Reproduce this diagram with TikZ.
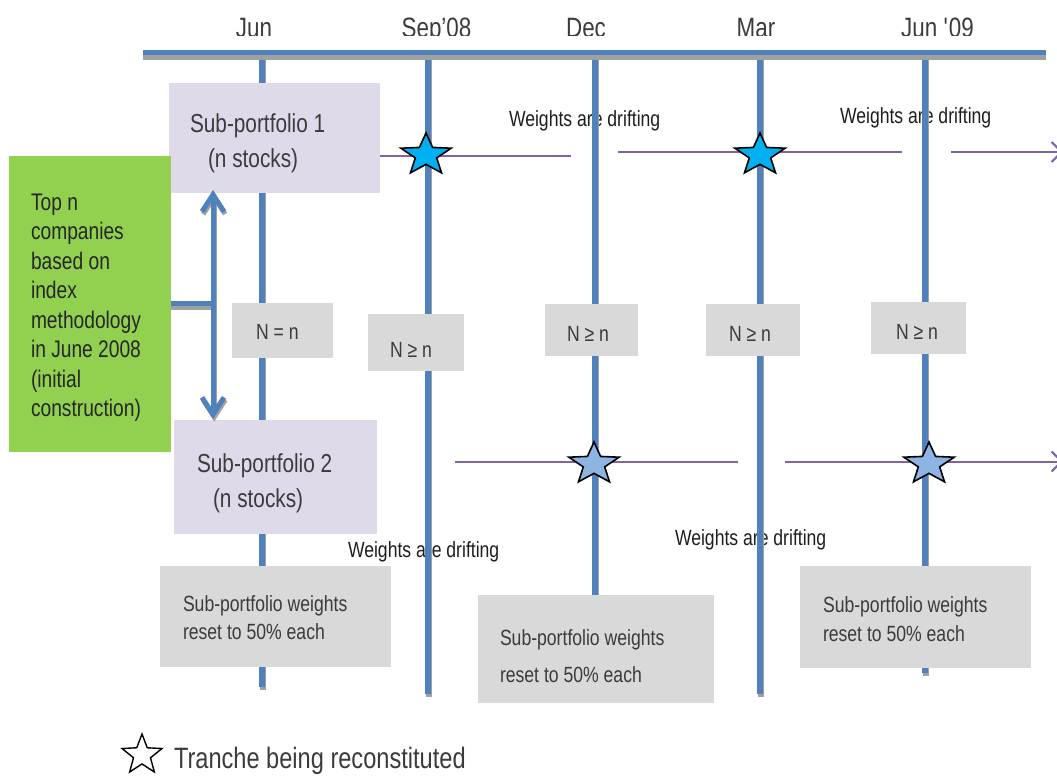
\documentclass[tikz,border=0pt]{standalone}
\usepackage{fontspec}
\setmainfont{Liberation Sans}[FakeStretch=0.8]
\usetikzlibrary{shapes.geometric,arrows.meta}
\definecolor{tlblue}{HTML}{4F81BD}
\definecolor{shgray}{HTML}{A0A0A0}
\definecolor{lav}{HTML}{DFDAE9}
\definecolor{boxgray}{HTML}{D9D9D9}
\definecolor{grn}{HTML}{92D050}
\definecolor{purp}{HTML}{8064A2}
\definecolor{cyanstar}{HTML}{00B0F0}
\definecolor{lbstar}{HTML}{8DB4E2}
\definecolor{txt}{HTML}{3B3B3B}
\definecolor{txtd}{HTML}{1E1E1E}
\newcommand{\fsz}[1]{\fontsize{#1}{#1}\selectfont}
\begin{document}
\begin{tikzpicture}[x=1pt,y=-1pt,
  rbox/.style={inner sep=0pt, outer sep=0pt, anchor=north west, draw=none},
  lbl/.style={inner sep=0pt, outer sep=0pt, anchor=base west, text=txt},
  drift/.style={inner sep=0pt, outer sep=0pt, anchor=base west, text=txtd, font=\fsz{22}},
  vline/.style={draw=tlblue, line width=5.5pt},
  vshadow/.style={draw=shgray, line width=5.5pt},
  pline/.style={draw=purp, line width=2pt},
  parrow/.style={pline, -{Straight Barb[length=10pt,width=20pt]}},
  tstar/.style={star, star points=5, star point ratio=2.35, minimum size=44pt, inner sep=0pt, outer sep=0pt, draw=black, line width=1.6pt, transform shape},
  chev/.style={{Straight Barb[length=17pt,width=22pt]}-{Straight Barb[length=17pt,width=22pt]}},
]
\useasboundingbox (0,0) rectangle (1057,776);

% month labels (clipped at the bottom like the original)
\begin{scope}
\clip (100,0) rectangle (1057,35.5);
\node[lbl, anchor=base, font=\fsz{28}] (mjun) at (254,37.5) {Jun};
\node[lbl, anchor=base, font=\fsz{28}] (msep) at (436.5,37.5) {Sep’08};
\node[lbl, anchor=base, font=\fsz{28}] (mdec) at (586,37.5) {Dec};
\node[lbl, anchor=base, font=\fsz{28}] (mmar) at (756,37.5) {Mar};
\node[lbl, anchor=base, font=\fsz{28}] (mjunb) at (937.5,37.5) {Jun \textquotesingle 09};
\end{scope}

% drifting labels (under the lines)
\node[drift] (dr1) at (509,126) {Weights are drifting};
\node[drift] (dr2) at (840,123) {Weights are drifting};
\node[drift] (dr3) at (348,557) {Weights are drifting};
\node[drift] (dr4) at (675,545) {Weights are drifting};

% vertical time lines
\foreach \n/\x/\yb in {vjun/262/690, vsep/428/697, vdec/595/600, vmar/760/697, vjunb/925/676} {
  \coordinate (\n T) at (\x,52);
  \coordinate (\n B) at (\x,\yb);
  \draw[vshadow] ([xshift=0.8pt]\n T) -- ([xshift=0.8pt]\n B);
  \draw[vline] (\n T) -- ([yshift=3pt]\n B);
}

% timeline
\coordinate (tlL) at (143,52.5);
\coordinate (tlR) at (1046,52.5);
\draw[shgray, line width=5pt] ([yshift=-5pt]tlL) -- ([yshift=-5pt]tlR);
\draw[tlblue, line width=5pt] (tlL) -- (tlR);

% purple drift lines
\coordinate (p1a) at (380,156); \coordinate (p1b) at (571,156);
\coordinate (p1c) at (618,152); \coordinate (p1d) at (902,152);
\coordinate (p1e) at (951,152); \coordinate (p1f) at (1063,152);
\draw[pline] (p1a) -- (p1b);
\draw[pline] (p1c) -- (p1d);
\draw[parrow] (p1e) -- (p1f);
\coordinate (p2a) at (455,461.5); \coordinate (p2b) at (738,461.5);
\coordinate (p2c) at (785,461.5); \coordinate (p2d) at (1063,461.5);
\draw[pline] (p2a) -- (p2b);
\draw[parrow] (p2c) -- (p2d);

% sub-portfolio boxes
\node[rbox, fill=lav, minimum width=211pt, minimum height=110pt] (sp1) at (169,83) {};
\node[lbl, font=\fsz{26}] (sp1a) at (190,132) {Sub-portfolio 1};
\node[lbl, font=\fsz{26}] (sp1b) at (208,167) {(n stocks)};
\node[rbox, fill=lav, minimum width=203pt, minimum height=114pt] (sp2) at (174,420) {};
\node[lbl, font=\fsz{26}] (sp2a) at (197,472) {Sub-portfolio 2};
\node[lbl, font=\fsz{26}] (sp2b) at (213,507) {(n stocks)};

% green box
\node[rbox, fill=grn, minimum width=162pt, minimum height=296pt] (topn) at (9,156) {};
\foreach \t [count=\i] in {{Top n}, {companies}, {based on}, {index}, {methodology}, {in June 2008}, {(initial}, {construction)}} {
  \node[lbl, text=black!85, font=\fsz{24}] (g\i) at (31,{210+(\i-1)*29.5}) {\t};
}

% N boxes
\node[rbox, fill=boxgray, minimum width=101pt, minimum height=55pt] (n0) at (232,303) {};
\node[lbl, font=\fsz{22}] (n0t) at (256,339) {N = n};
\node[rbox, fill=boxgray, minimum width=96pt, minimum height=57pt] (n1) at (368,314) {};
\node[lbl, font=\fsz{22}] (n1t) at (390,357) {N ≥ n};
\node[rbox, fill=boxgray, minimum width=93pt, minimum height=52pt] (n2) at (545,304) {};
\node[lbl, font=\fsz{22}] (n2t) at (567,341) {N ≥ n};
\node[rbox, fill=boxgray, minimum width=94pt, minimum height=52pt] (n3) at (706,304) {};
\node[lbl, font=\fsz{22}] (n3t) at (729,341) {N ≥ n};
\node[rbox, fill=boxgray, minimum width=95pt, minimum height=52pt] (n4) at (871,302) {};
\node[lbl, font=\fsz{22}] (n4t) at (896,339) {N ≥ n};

% reset boxes
\node[rbox, fill=boxgray, minimum width=231pt, minimum height=101pt] (r1) at (160,566) {};
\node[lbl, font=\fsz{22}] (r1a) at (183,611) {Sub-portfolio weights};
\node[lbl, font=\fsz{22}] (r1b) at (183,639) {reset to 50\% each};
\node[rbox, fill=boxgray, minimum width=236pt, minimum height=108pt] (r2) at (478,595) {};
\node[lbl, font=\fsz{22}] (r2a) at (500,645) {Sub-portfolio weights};
\node[lbl, font=\fsz{22}] (r2b) at (500,682) {reset to 50\% each};
\node[rbox, fill=boxgray, minimum width=231pt, minimum height=102pt] (r3) at (800,566) {};
\node[lbl, font=\fsz{22}] (r3a) at (823,612) {Sub-portfolio weights};
\node[lbl, font=\fsz{22}] (r3b) at (823,641) {reset to 50\% each};

% stub and double arrow
\coordinate (stubL) at (171,303.5);
\coordinate (stubR) at (216,303.5);
\draw[shgray, line width=4pt] ([yshift=-4.5pt]stubL) -- ([yshift=-4.5pt]stubR);
\draw[tlblue, line width=4.5pt] (stubL) -- (stubR);
\coordinate (da1) at (213,190);
\coordinate (da2) at (213,419);
\draw[shgray, line width=5pt, chev] ([shift={(1.2pt,-2.5pt)}]da1) -- ([shift={(1.2pt,-2.5pt)}]da2);
\draw[tlblue, line width=5pt, chev] (da1) -- (da2);

% stars
\begin{scope}[shift={(426,155)}, xscale=1.2]
\node[tstar, fill=cyanstar] (st1) at (0,0) {};
\end{scope}
\begin{scope}[shift={(760,155)}, xscale=1.2]
\node[tstar, fill=cyanstar] (st2) at (0,0) {};
\end{scope}
\begin{scope}[shift={(594,464)}, xscale=1.2]
\node[tstar, fill=lbstar] (st3) at (0,0) {};
\end{scope}
\begin{scope}[shift={(929,464)}, xscale=1.2]
\node[tstar, fill=lbstar] (st4) at (0,0) {};
\end{scope}

% legend
\begin{scope}[shift={(142,755)}]
\node[tstar, fill=white, minimum size=42pt, line width=1.4pt] (lst) at (0,0) {};
\end{scope}
\node[lbl, font=\fsz{29.5}] (legt) at (174,768) {Tranche being reconstituted};
\end{tikzpicture}
\end{document}
